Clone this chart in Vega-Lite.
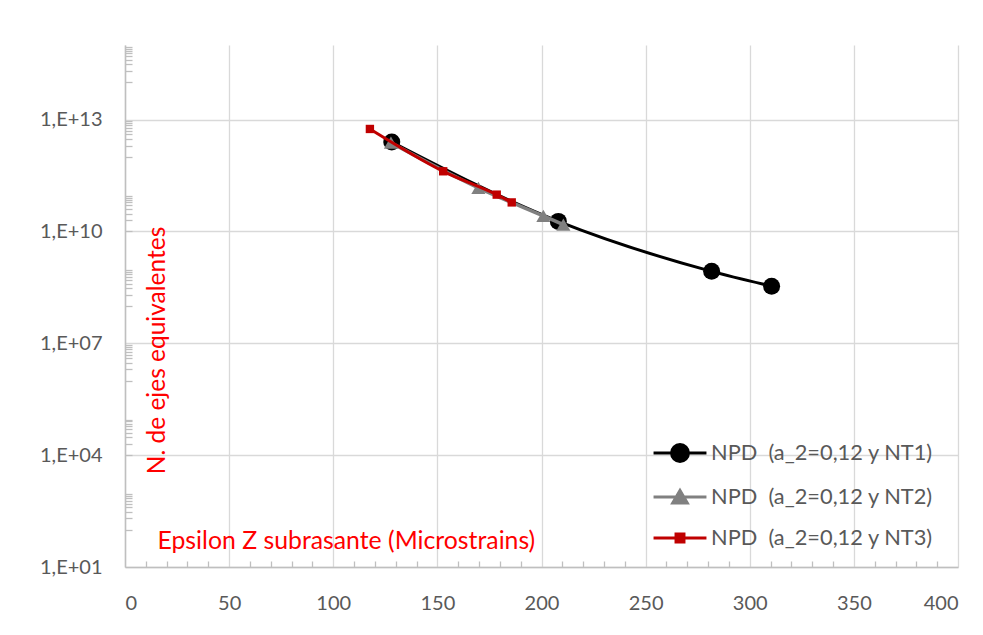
{
  "$schema": "https://vega.github.io/schema/vega-lite/v6.json",
  "width": 833,
  "height": 522,
  "autosize": "none",
  "padding": {"left": 125, "top": 45, "right": 25, "bottom": 68},
  "background": "white",
  "config": {"view": {"stroke": null}, "font": "Lato"},
  "data": {
    "values": [
      {"s": "NPD  (a_2=0,12 y NT1)", "x": 128.1, "y": 2.5e12},
      {"s": "NPD  (a_2=0,12 y NT1)", "x": 208.1, "y": 1.86e10},
      {"s": "NPD  (a_2=0,12 y NT1)", "x": 281.7, "y": 8.5e8},
      {"s": "NPD  (a_2=0,12 y NT1)", "x": 310.5, "y": 3.4e8},
      {"s": "NPD  (a_2=0,12 y NT2)", "x": 127.7, "y": 2.4e12},
      {"s": "NPD  (a_2=0,12 y NT2)", "x": 169.7, "y": 1.48e11},
      {"s": "NPD  (a_2=0,12 y NT2)", "x": 200.9, "y": 2.6e10},
      {"s": "NPD  (a_2=0,12 y NT2)", "x": 210.5, "y": 1.53e10},
      {"s": "NPD  (a_2=0,12 y NT3)", "x": 117.6, "y": 5.6e12},
      {"s": "NPD  (a_2=0,12 y NT3)", "x": 152.8, "y": 4.1e11},
      {"s": "NPD  (a_2=0,12 y NT3)", "x": 178.5, "y": 9.7e10},
      {"s": "NPD  (a_2=0,12 y NT3)", "x": 185.7, "y": 6.0e10}
    ]
  },
  "resolve": {
    "scale": {"x": "independent", "y": "independent"},
    "axis": {"x": "independent", "y": "independent"}
  },
  "layer": [
    {
      "mark": {"type": "point", "opacity": 0},
      "encoding": {
        "x": {
          "field": "x", "type": "quantitative",
          "scale": {"domain": [0, 400], "nice": false, "zero": false},
          "axis": {
            "orient": "bottom", "offset": -6, "tickSize": 6, "tickColor": "#BFBFBF", "tickWidth": 1.3,
            "labels": false, "domain": false, "grid": false, "title": null,
            "values": [10,20,30,40,60,70,80,90,110,120,130,140,160,170,180,190,210,220,230,240,260,270,280,290,310,320,330,340,360,370,380,390]
          }
        },
        "y": {
          "field": "y", "type": "quantitative",
          "scale": {"type": "log", "domain": [10, 1e15], "nice": false},
          "axis": {
            "orient": "left", "offset": -7, "tickSize": 7, "tickColor": "#BFBFBF", "tickWidth": 1.3,
            "labels": false, "domain": false, "grid": false, "title": null,
            "values": [100,200,300,400,500,600,700,800,900,
              10000,20000,30000,40000,50000,60000,70000,80000,90000,
              1e6,2e6,3e6,4e6,5e6,6e6,7e6,8e6,9e6,
              1e8,2e8,3e8,4e8,5e8,6e8,7e8,8e8,9e8,
              1e10,2e10,3e10,4e10,5e10,6e10,7e10,8e10,9e10,
              1e12,2e12,3e12,4e12,5e12,6e12,7e12,8e12,9e12,
              1e14,2e14,3e14,4e14,5e14,6e14,7e14,8e14,9e14]
          }
        }
      }
    },
    {
      "encoding": {
        "x": {
          "field": "x", "type": "quantitative",
          "scale": {"domain": [0, 400], "nice": false, "zero": false},
          "axis": {
            "orient": "bottom",
            "values": [0,50,100,150,200,250,300,350,400],
            "grid": true, "gridColor": "#D9D9D9", "gridWidth": 1.3,
            "domainColor": "#BFBFBF", "domainWidth": 1.5,
            "ticks": false,
            "labelFont": "Lato", "labelFontSize": 20, "labelColor": "#595959", "labelPadding": 26,
            "title": "Epsilon Z subrasante (Microstrains)",
            "titleFont": "Lato", "titleFontSize": 24.8, "titleFontWeight": "normal", "titleColor": "#FF0000",
            "titleX": 32, "titleY": -26, "titleAlign": "left", "titleBaseline": "middle", "titleAngle": 0
          }
        },
        "y": {
          "field": "y", "type": "quantitative",
          "scale": {"type": "log", "domain": [10, 1e15], "nice": false},
          "axis": {
            "orient": "left",
            "values": [10, 10000, 1e7, 1e10, 1e13],
            "grid": true, "gridColor": "#D9D9D9", "gridWidth": 1.3,
            "domainColor": "#BFBFBF", "domainWidth": 1.5,
            "ticks": false,
            "labelExpr": "'1,E+' + (datum.value < 1e10 ? '0' : '') + round(log(datum.value) / LN10)",
            "labelFont": "Lato", "labelFontSize": 20, "labelColor": "#595959", "labelPadding": 23,
            "title": "N. de ejes equivalentes",
            "titleFont": "Lato", "titleFontSize": 24.5, "titleFontWeight": "normal", "titleColor": "#FF0000",
            "titleX": 32, "titleY": 305, "titleAngle": 270, "titleAlign": "center", "titleBaseline": "middle"
          }
        },
        "color": {
          "field": "s", "type": "nominal",
          "scale": {
            "domain": ["NPD  (a_2=0,12 y NT1)", "NPD  (a_2=0,12 y NT2)", "NPD  (a_2=0,12 y NT3)"],
            "range": ["#000000", "#808080", "#C00000"]
          },
          "legend": {
            "title": null, "orient": "none", "legendX": 540, "legendY": 393, "padding": 0,
            "symbolSize": 700, "symbolStrokeWidth": 3, "labelOffset": 16, "rowPadding": 14,
            "labelFont": "Lato", "labelFontSize": 21.8, "labelColor": "#595959", "labelLimit": 400,
            "labelExpr": "replace(datum.label, '  ', '\u00a0 ')",
            "encode": {
              "symbols": {
                "update": {
                  "shape": {"signal": "indexof(datum.value, 'NT1') >= 0 ? 'M-2,0H2M0.64,0A0.64,0.64 0 1,1 -0.64,0A0.64,0.64 0 1,1 0.64,0Z' : indexof(datum.value, 'NT2') >= 0 ? 'M-2,0H2M0,-0.5L0.55,0.45L-0.55,0.45Z' : 'M-2,0H2M-0.3,-0.3H0.3V0.3H-0.3Z'"},
                  "fill": {"signal": "scale('color', datum.value)"},
                  "stroke": {"signal": "scale('color', datum.value)"},
                  "strokeWidth": {"value": 3},
                  "size": {"value": 700},
                  "opacity": {"value": 1}
                }
              }
            }
          }
        }
      },
      "layer": [
        {"transform": [{"filter": "indexof(datum.s, 'NT1') >= 0"}], "mark": {"type": "line", "interpolate": "monotone", "strokeWidth": 3}},
        {"transform": [{"filter": "indexof(datum.s, 'NT1') >= 0"}], "mark": {"type": "point", "filled": true, "opacity": 1, "shape": "circle", "size": 289}},
        {"transform": [{"filter": "indexof(datum.s, 'NT2') >= 0"}], "mark": {"type": "line", "interpolate": "monotone", "strokeWidth": 3.5}},
        {"transform": [{"filter": "indexof(datum.s, 'NT2') >= 0"}], "mark": {"type": "point", "filled": true, "opacity": 1, "shape": "triangle-up", "size": 200}},
        {"transform": [{"filter": "indexof(datum.s, 'NT3') >= 0"}], "mark": {"type": "line", "interpolate": "monotone", "strokeWidth": 3}},
        {"transform": [{"filter": "indexof(datum.s, 'NT3') >= 0"}], "mark": {"type": "point", "filled": true, "opacity": 1, "shape": "square", "size": 70}}
      ]
    }
  ]
}
